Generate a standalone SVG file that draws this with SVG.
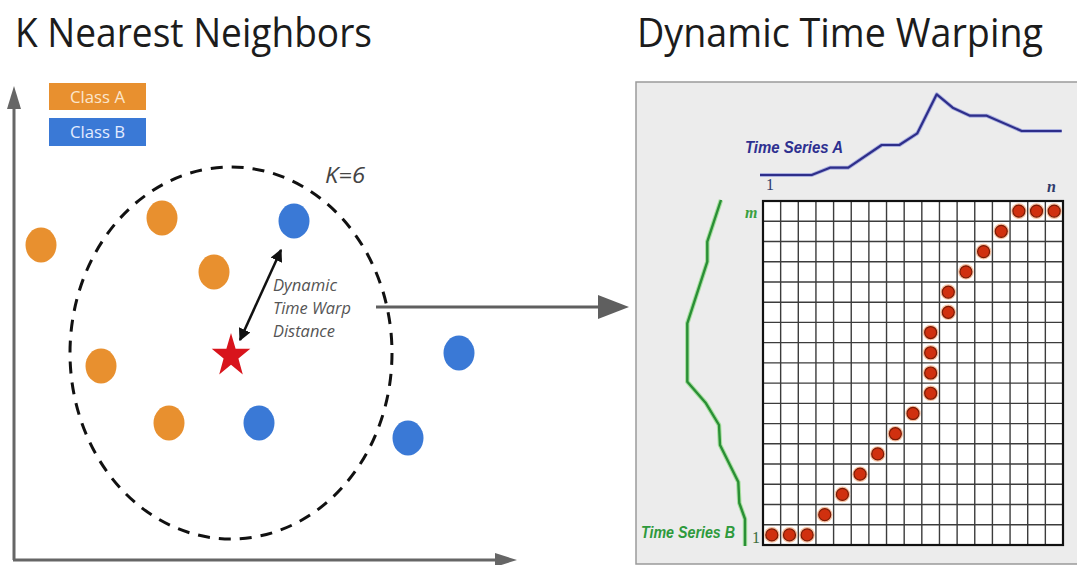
<svg xmlns="http://www.w3.org/2000/svg" xmlns:xlink="http://www.w3.org/1999/xlink" width="1077" height="565" viewBox="0 0 1077 565">
  <style>
    .title { font-family: "Open Sans", "Liberation Sans", sans-serif; font-size: 41px; fill: #1c1c1c; }
    .legend-text { font-family: "Open Sans", "Liberation Sans", sans-serif; font-size: 17px; }
    .note { font-family: "Open Sans", "Liberation Sans", sans-serif; font-style: italic; font-size: 17px; fill: #555; }
    .kval { font-family: "Open Sans", "Liberation Sans", sans-serif; font-style: italic; font-size: 22px; fill: #444; }
    .class-a { fill: #e8902f; }
    .class-b { fill: #3a79d6; }
    .axis { stroke: #666; stroke-width: 3; fill: none; }
    .axis-head { fill: #666; }
    .series-label { font-family: "Liberation Sans", Arial, sans-serif; font-weight: bold; font-style: italic; font-size: 17px; }
    .idx { font-family: "Liberation Serif", "Times New Roman", serif; font-size: 16px; }
    .grid-line { stroke: #3c3c3c; stroke-width: 1.4; fill: none; }
  </style>
  <defs>
    <marker id="dbl-head" viewBox="0 0 10 10" refX="9" refY="5" markerWidth="5" markerHeight="5" orient="auto-start-reverse" markerUnits="strokeWidth">
      <path d="M0,0 L10,5 L0,10 Z" fill="#111"/>
    </marker>
    <g id="path-dot">
      <circle r="7.8" fill="#f6c3a4"/>
      <circle r="6" fill="#d0300f" stroke="#7a1a05" stroke-width="1.2"/>
    </g>
  </defs>

  <rect width="1077" height="565" fill="#ffffff"/>

  <!-- Titles -->
  <text id="knn-title" class="title" x="15" y="47" textLength="357" lengthAdjust="spacingAndGlyphs">K Nearest Neighbors</text>
  <text id="dtw-title" class="title" x="637" y="47" textLength="406" lengthAdjust="spacingAndGlyphs">Dynamic Time Warping</text>

  <!-- Feature-space axes -->
  <g id="axes">
    <path class="axis" d="M14,560 V106"/>
    <polygon class="axis-head" points="14,86 7,109 21,109"/>
    <path class="axis" d="M13,560 H498"/>
    <polygon class="axis-head" points="517,560 495,553 495,567"/>
  </g>

  <!-- Legend -->
  <g id="legend-class-a">
    <rect x="49" y="83" width="97" height="27" class="class-a"/>
    <text class="legend-text" x="97.5" y="103" text-anchor="middle" fill="#fbe6cc" textLength="55" lengthAdjust="spacingAndGlyphs">Class A</text>
  </g>
  <g id="legend-class-b">
    <rect x="49" y="118" width="97" height="28" class="class-b"/>
    <text class="legend-text" x="97.5" y="138" text-anchor="middle" fill="#e3ecff" textLength="55" lengthAdjust="spacingAndGlyphs">Class B</text>
  </g>

  <!-- Neighbourhood boundary, k = 6 -->
  <g id="neighborhood">
    <ellipse cx="231" cy="353" rx="161" ry="186" fill="none" stroke="#111" stroke-width="3" stroke-dasharray="12 9"/>
    <text class="kval" x="325" y="183" textLength="40" lengthAdjust="spacingAndGlyphs">K=6</text>
  </g>

  <!-- Class A samples -->
  <g id="a1"><ellipse class="class-a" cx="41" cy="245" rx="15.5" ry="17.5"/></g>
  <g id="a2"><ellipse class="class-a" cx="162" cy="218" rx="15.5" ry="17.5"/></g>
  <g id="a3"><ellipse class="class-a" cx="214" cy="272" rx="15.5" ry="17.5"/></g>
  <g id="a4"><ellipse class="class-a" cx="101" cy="366" rx="15.5" ry="17.5"/></g>
  <g id="a5"><ellipse class="class-a" cx="169" cy="423" rx="15.5" ry="17.5"/></g>

  <!-- Class B samples -->
  <g id="b1"><ellipse class="class-b" cx="294" cy="221" rx="15.5" ry="17.5"/></g>
  <g id="b2"><ellipse class="class-b" cx="259" cy="423" rx="15.5" ry="17.5"/></g>
  <g id="b3"><ellipse class="class-b" cx="459" cy="353" rx="15.5" ry="17.5"/></g>
  <g id="b4"><ellipse class="class-b" cx="408" cy="438" rx="15.5" ry="17.5"/></g>

  <!-- Query point -->
  <g id="query">
    <polygon fill="#d8141c" points="231,333 235.6,348.8 250.3,348.8 238.4,358.6 242.8,374.5 231,364.8 219.2,374.5 223.6,358.6 211.7,348.8 226.4,348.8"/>
  </g>

  <g id="distance-label">
    <text class="note" x="273" y="291" textLength="64" lengthAdjust="spacingAndGlyphs">Dynamic</text>
    <text class="note" x="273" y="314" textLength="78" lengthAdjust="spacingAndGlyphs">Time Warp</text>
    <text class="note" x="273" y="337" textLength="62" lengthAdjust="spacingAndGlyphs">Distance</text>
  </g>

  <!-- DTW cost matrix panel -->
  <g id="dtw-panel">
    <rect x="636" y="82" width="460" height="482" fill="#ececec" stroke="#9a9a9a" stroke-width="1.5"/>

    <g id="series-a">
      <polyline points="760,175 811.7,175 830,167.7 848.3,167.7 881.7,145 899.3,145 917.3,133.3 936.7,94.3 952.7,107.7 970,115.7 986.7,115.7 1021.7,131 1061.7,131" fill="none" stroke="#aab0e0" stroke-width="4" stroke-linejoin="round"/>
      <polyline points="760,175 811.7,175 830,167.7 848.3,167.7 881.7,145 899.3,145 917.3,133.3 936.7,94.3 952.7,107.7 970,115.7 986.7,115.7 1021.7,131 1061.7,131" fill="none" stroke="#2e2e8a" stroke-width="2.2" stroke-linejoin="round"/>
      <text class="series-label" x="745" y="153" fill="#2e3090" textLength="98" lengthAdjust="spacingAndGlyphs">Time Series A</text>
      <text class="idx" x="766" y="190" fill="#2e3a6a">1</text>
      <text class="idx" x="1047" y="192" fill="#2e3a6a" font-style="italic" font-weight="bold" font-size="18">n</text>
    </g>

    <g id="series-b">
      <polyline points="721,200 707.3,241.7 707.3,261.7 687.3,323.3 687.3,381.7 706,403.3 719,425 720,445 738.3,482 739.3,503 745,519 745,546" fill="none" stroke="#a8e0a0" stroke-width="4.5" stroke-linejoin="round"/>
      <polyline points="721,200 707.3,241.7 707.3,261.7 687.3,323.3 687.3,381.7 706,403.3 719,425 720,445 738.3,482 739.3,503 745,519 745,546" fill="none" stroke="#2a8f36" stroke-width="2.4" stroke-linejoin="round"/>
      <text class="series-label" x="641" y="538" fill="#2e9a3c" textLength="94" lengthAdjust="spacingAndGlyphs">Time Series B</text>
      <text class="idx" x="745" y="218" fill="#3aa040" font-style="italic" font-weight="bold" font-size="18">m</text>
      <text class="idx" x="752" y="543" fill="#3a6a3a" font-size="12">1</text>
    </g>

    <!-- 17 x 17 alignment grid -->
    <g id="cost-grid">
      <rect x="763" y="201" width="300" height="344" fill="#ffffff"/>
      <path class="grid-line" d="M780.65,201V545 M798.29,201V545 M815.94,201V545 M833.59,201V545 M851.24,201V545 M868.88,201V545 M886.53,201V545 M904.18,201V545 M921.82,201V545 M939.47,201V545 M957.12,201V545 M974.76,201V545 M992.41,201V545 M1010.06,201V545 M1027.71,201V545 M1045.35,201V545 M763,221.24H1063 M763,241.47H1063 M763,261.71H1063 M763,281.94H1063 M763,302.18H1063 M763,322.41H1063 M763,342.65H1063 M763,362.88H1063 M763,383.12H1063 M763,403.35H1063 M763,423.59H1063 M763,443.82H1063 M763,464.06H1063 M763,484.29H1063 M763,504.53H1063 M763,524.76H1063"/>
      <rect x="763" y="201" width="300" height="344" fill="none" stroke="#111" stroke-width="2.2"/>
    </g>

    <!-- Optimal warping path -->
    <g id="warp-path">
      <use xlink:href="#path-dot" x="771.82" y="534.88"/>
      <use xlink:href="#path-dot" x="789.47" y="534.88"/>
      <use xlink:href="#path-dot" x="807.12" y="534.88"/>
      <use xlink:href="#path-dot" x="824.76" y="514.65"/>
      <use xlink:href="#path-dot" x="842.41" y="494.41"/>
      <use xlink:href="#path-dot" x="860.06" y="474.18"/>
      <use xlink:href="#path-dot" x="877.71" y="453.94"/>
      <use xlink:href="#path-dot" x="895.35" y="433.71"/>
      <use xlink:href="#path-dot" x="913" y="413.47"/>
      <use xlink:href="#path-dot" x="930.65" y="393.24"/>
      <use xlink:href="#path-dot" x="930.65" y="373"/>
      <use xlink:href="#path-dot" x="930.65" y="352.77"/>
      <use xlink:href="#path-dot" x="930.65" y="332.53"/>
      <use xlink:href="#path-dot" x="948.29" y="312.3"/>
      <use xlink:href="#path-dot" x="948.29" y="292.06"/>
      <use xlink:href="#path-dot" x="965.94" y="271.82"/>
      <use xlink:href="#path-dot" x="983.59" y="251.59"/>
      <use xlink:href="#path-dot" x="1001.24" y="231.35"/>
      <use xlink:href="#path-dot" x="1018.88" y="211.12"/>
      <use xlink:href="#path-dot" x="1036.53" y="211.12"/>
      <use xlink:href="#path-dot" x="1054.18" y="211.12"/>
    </g>
  </g>

  <!-- Connectors -->
  <g id="connectors">
    <line x1="240" y1="340" x2="281" y2="250" stroke="#111" stroke-width="2.5" marker-start="url(#dbl-head)" marker-end="url(#dbl-head)"/>
    <path d="M376,307 H600" stroke="#5f5f5f" stroke-width="3.2" fill="none"/>
    <polygon points="598,295 629,307 598,319" fill="#5f5f5f"/>
  </g>
</svg>
